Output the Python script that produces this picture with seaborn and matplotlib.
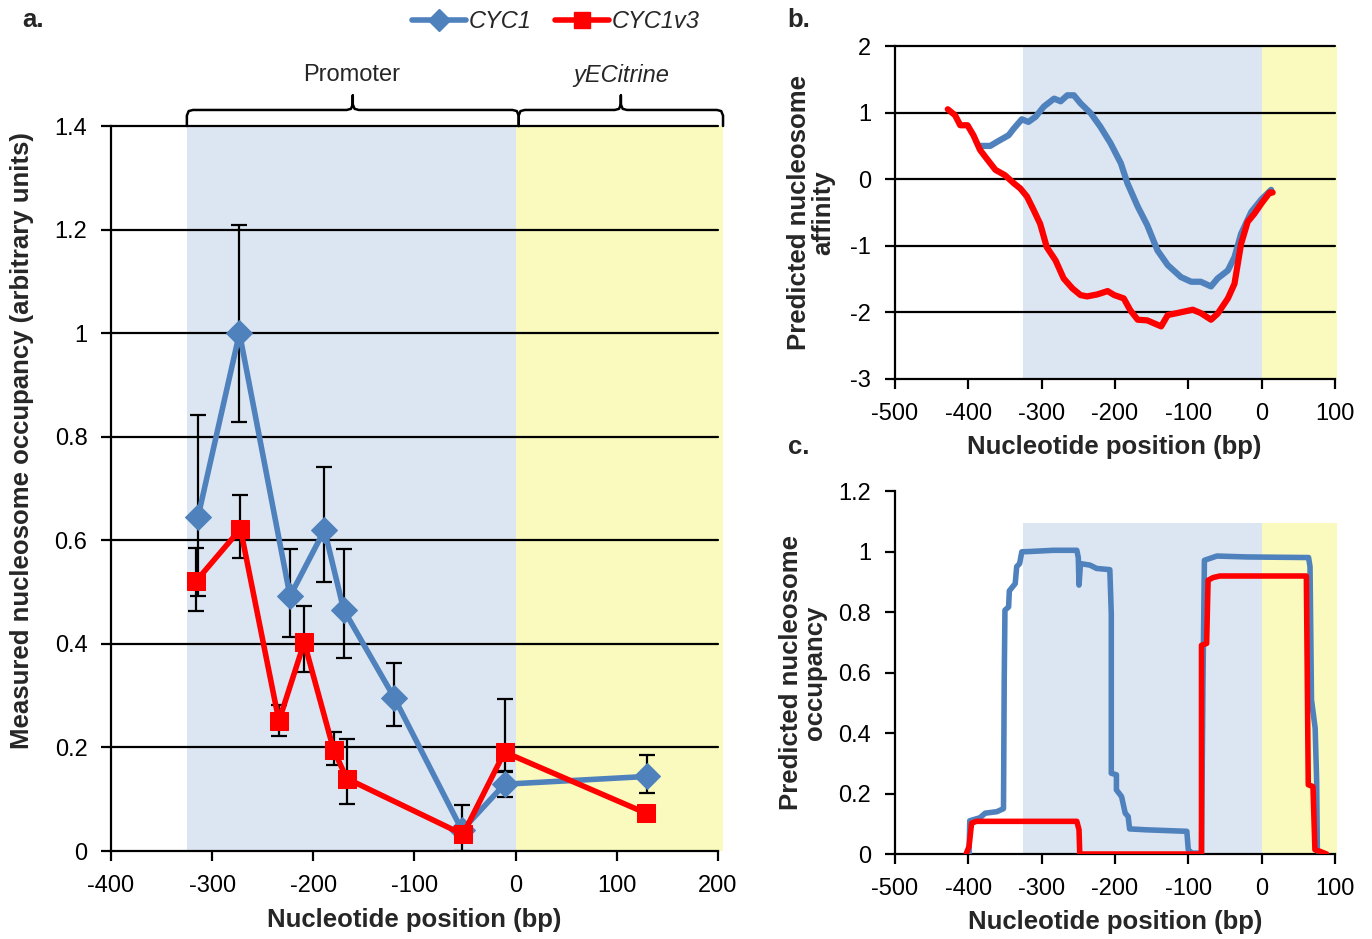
import matplotlib
matplotlib.use('Agg')
import matplotlib.pyplot as plt
import seaborn as sns
from matplotlib.lines import Line2D

sns.set_theme(style='white')
plt.rcParams['font.family'] = ['Liberation Sans', 'DejaVu Sans']

BLUE = '#4F81BD'
RED = '#FF0000'
PROMOTER_BG = '#DCE6F2'
CODING_BG = '#FAFABE'

# Panel a: measured occupancy (CYC1 and CYC1v3)
cyc1_pos = [-314, -273, -223, -189, -170, -120, -53, -11, 130]
cyc1_occ = [0.645, 1.0, 0.492, 0.620, 0.466, 0.296, 0.040, 0.129, 0.144]
cyc1_err_lo = [0.152, 0.172, 0.078, 0.100, 0.094, 0.054, 0.040, 0.024, 0.032]
cyc1_err_hi = [0.197, 0.208, 0.092, 0.121, 0.117, 0.068, 0.048, 0.024, 0.042]

v3_pos = [-316, -272, -234, -209, -180, -167, -52, -11, 129]
v3_occ = [0.521, 0.622, 0.251, 0.403, 0.196, 0.140, 0.032, 0.191, 0.073]
v3_err_lo = [0.058, 0.057, 0.029, 0.057, 0.029, 0.050, 0.015, 0.037, 0.0]
v3_err_hi = [0.065, 0.066, 0.031, 0.070, 0.033, 0.076, 0.015, 0.103, 0.0]

a_xticks = [-400, -300, -200, -100, 0, 100, 200]
a_yticks = [0, 0.2, 0.4, 0.6, 0.8, 1.0, 1.2, 1.4]
a_yticklabels = ['0', '0.2', '0.4', '0.6', '0.8', '1', '1.2', '1.4']

# Panel b: predicted nucleosome affinity
b_cyc1_x = [-384, -370, -361, -345, -338, -327, -318, -308, -297, -283, -274, -265,
            -256, -247, -233, -220, -206, -192, -183, -169, -156, -142, -128, -110,
            -96, -83, -69, -60, -46, -37, -28, -14, 0, 13]
b_cyc1_y = [0.50, 0.50, 0.56, 0.66, 0.76, 0.90, 0.86, 0.94, 1.09, 1.21, 1.17, 1.26,
            1.26, 1.14, 0.99, 0.79, 0.54, 0.24, -0.06, -0.41, -0.69, -1.07, -1.29, -1.47,
            -1.54, -1.54, -1.61, -1.49, -1.37, -1.17, -0.82, -0.49, -0.30, -0.16]
b_v3_x = [-428, -418, -411, -401, -393, -384, -375, -363, -350, -338, -329, -320,
          -311, -302, -293, -281, -270, -258, -247, -238, -224, -210, -201, -188,
          -179, -169, -156, -137, -128, -115, -94, -83, -69, -60, -46, -37, -28,
          -19, -10, 0, 11, 15]
b_v3_y = [1.05, 0.96, 0.81, 0.81, 0.66, 0.44, 0.31, 0.14, 0.06, -0.06, -0.14, -0.26,
          -0.46, -0.67, -1.02, -1.22, -1.49, -1.64, -1.74, -1.76, -1.73, -1.68, -1.74, -1.79,
          -1.97, -2.11, -2.12, -2.21, -2.04, -2.01, -1.96, -2.01, -2.11, -2.02, -1.79, -1.57, -0.97,
          -0.64, -0.52, -0.36, -0.20, -0.20]
b_yticks = [-3, -2, -1, 0, 1, 2]

# Panel c: predicted nucleosome occupancy
c_cyc1_x = [-399, -398, -384, -377, -361, -352, -351, -350, -345, -344,
            -336, -334, -330, -327, -316, -284, -252, -250, -249, -247,
            -234, -225, -207, -205, -205, -198, -198, -191, -186, -182,
            -180, -157, -102, -100, -95, -82, -80, -78, -61, -20,
            64, 66, 68, 73, 75, 76]
c_cyc1_y = [0.0, 0.11, 0.12, 0.135, 0.14, 0.15, 0.575, 0.806, 0.817, 0.87,
            0.894, 0.95, 0.96, 0.999, 1.0, 1.004, 1.004, 0.98, 0.889, 0.96,
            0.955, 0.944, 0.94, 0.795, 0.267, 0.262, 0.212, 0.19, 0.135, 0.124,
            0.083, 0.08, 0.075, 0.014, 0.003, 0.003, 0.564, 0.971, 0.985, 0.982,
            0.98, 0.95, 0.51, 0.416, 0.245, 0.01]
c_v3_x = [-403, -399, -395.5, -389, -252, -249, -248, -82, -82, -75, -73, -66, -57,
          61, 63.6, 70, 72.7, 79.5, 88.6]
c_v3_y = [0.0, 0.025, 0.102, 0.108, 0.108, 0.08, 0.0, 0.0, 0.69, 0.696, 0.905, 0.914, 0.919,
          0.919, 0.229, 0.223, 0.014, 0.009, 0.0]
c_yticks = [0, 0.2, 0.4, 0.6, 0.8, 1.0, 1.2]
c_yticklabels = ['0', '0.2', '0.4', '0.6', '0.8', '1', '1.2']

bc_xticks = [-500, -400, -300, -200, -100, 0, 100]

promoter_span = (-325, 0)
coding_span_a = (0, 205)
coding_span_bc = (0, 103)

TICK_FS = 17
LABEL_FS = 18.5

fig = plt.figure(figsize=(13.72, 9.39), dpi=100)
ax_a = fig.add_axes([0.0809, 0.0937, 0.4424, 0.7721])
ax_b = fig.add_axes([0.6523, 0.5964, 0.3207, 0.3546])
ax_c = fig.add_axes([0.6523, 0.0905, 0.3207, 0.3866])


def style_axes(ax):
    for side in ['top', 'right']:
        ax.spines[side].set_visible(False)
    for side in ['left', 'bottom']:
        ax.spines[side].set_color('black')
        ax.spines[side].set_linewidth(1.6)
    ax.set_facecolor('none')
    ax.tick_params(direction='out', length=7, width=1.6, colors='black',
                   labelsize=TICK_FS, left=True, bottom=True)
    ax.tick_params(axis='x', pad=10)
    ax.tick_params(axis='y', pad=10)


def hyphen_labels(vals):
    return [str(int(v)) if float(v).is_integer() else str(v) for v in vals]


# ---- panel a ----
ax = ax_a
style_axes(ax)
ax.axvspan(*promoter_span, color=PROMOTER_BG, zorder=0, lw=0)
ax.axvspan(*coding_span_a, color=CODING_BG, zorder=0, lw=0, clip_on=False)
for yv in a_yticks[1:]:
    ax.axhline(yv, color='black', lw=1.6, zorder=1, clip_on=False)
ax.errorbar(cyc1_pos, cyc1_occ, yerr=[cyc1_err_lo, cyc1_err_hi], fmt='none',
            ecolor='black', elinewidth=1.6, capsize=6, capthick=1.6, zorder=3)
ax.errorbar(v3_pos, v3_occ, yerr=[v3_err_lo, v3_err_hi], fmt='none',
            ecolor='black', elinewidth=1.6, capsize=6, capthick=1.6, zorder=3)
sns.lineplot(x=cyc1_pos, y=cyc1_occ, ax=ax, sort=False, estimator=None, color=BLUE,
             lw=4, marker='D', markersize=13, markeredgecolor=BLUE, zorder=4)
sns.lineplot(x=v3_pos, y=v3_occ, ax=ax, sort=False, estimator=None, color=RED,
             lw=4, marker='s', markersize=13, markeredgecolor=RED, zorder=5)
ax.set_xlim(-400, 200)
ax.set_ylim(0, 1.4)
ax.set_xticks(a_xticks)
ax.set_xticklabels(hyphen_labels(a_xticks))
ax.set_yticks(a_yticks)
ax.set_yticklabels(a_yticklabels)
ax.set_xlabel('')
ax.set_ylabel('')


def draw_brace(ax, x0, x1, y0, y1, yp, r):
    xm = (x0 + x1) / 2
    c = (y1 - y0) * 0.35
    xs = [x0, x0, x0 + r * 0.3, x0 + r, xm - r, xm - r * 0.3, xm, xm, xm,
          xm + r * 0.3, xm + r, x1 - r, x1 - r * 0.3, x1, x1]
    ys = [y0, y1 - c, y1 - c * 0.2, y1, y1, y1 + c * 0.2, y1 + c, yp, y1 + c,
          y1 + c * 0.2, y1, y1, y1 - c * 0.2, y1 - c, y0]
    ax.plot(xs, ys, color='black', lw=1.8, clip_on=False, zorder=6,
            solid_joinstyle='round')


draw_brace(ax, promoter_span[0], 3, 1.4, 1.431, 1.459, 6)
draw_brace(ax, 3, coding_span_a[1], 1.4, 1.431, 1.459, 6)
ax.text(-162, 1.498, 'Promoter', ha='center', va='center', fontsize=TICK_FS)
ax.text(104, 1.498, 'yECitrine', ha='center', va='center', fontsize=TICK_FS,
        style='italic')

# ---- panel b ----
ax = ax_b
style_axes(ax)
ax.axvspan(*promoter_span, color=PROMOTER_BG, zorder=0, lw=0)
ax.axvspan(*coding_span_bc, color=CODING_BG, zorder=0, lw=0, clip_on=False)
for yv in b_yticks[1:]:
    ax.axhline(yv, color='black', lw=1.6, zorder=1, clip_on=False)
sns.lineplot(x=b_cyc1_x, y=b_cyc1_y, ax=ax, sort=False, estimator=None, color=BLUE,
             lw=4.5, zorder=4, solid_capstyle='round')
sns.lineplot(x=b_v3_x, y=b_v3_y, ax=ax, sort=False, estimator=None, color=RED,
             lw=4.5, zorder=5, solid_capstyle='round')
ax.set_xlim(-500, 100)
ax.set_ylim(-3, 2)
ax.set_xticks(bc_xticks)
ax.set_xticklabels(hyphen_labels(bc_xticks))
ax.set_yticks(b_yticks)
ax.set_yticklabels(hyphen_labels(b_yticks))
ax.set_xlabel('')
ax.set_ylabel('')

# ---- panel c ----
ax = ax_c
style_axes(ax)
ax.axvspan(*promoter_span, ymin=0, ymax=1.095 / 1.2, color=PROMOTER_BG, zorder=0, lw=0)
ax.axvspan(*coding_span_bc, ymin=0, ymax=1.095 / 1.2, color=CODING_BG, zorder=0, lw=0,
           clip_on=False)
sns.lineplot(x=c_cyc1_x, y=c_cyc1_y, ax=ax, sort=False, estimator=None, color=BLUE,
             lw=4, zorder=4, solid_capstyle='round')
sns.lineplot(x=c_v3_x, y=c_v3_y, ax=ax, sort=False, estimator=None, color=RED,
             lw=4, zorder=5, solid_capstyle='round')
ax.set_xlim(-500, 100)
ax.set_ylim(0, 1.2)
ax.set_xticks(bc_xticks)
ax.set_xticklabels(hyphen_labels(bc_xticks))
ax.set_yticks(c_yticks)
ax.set_yticklabels(c_yticklabels)
ax.set_xlabel('')
ax.set_ylabel('')

# ---- labels ----
fig.text(0.016, 0.531, 'Measured nucleosome occupancy (arbitrary units)', rotation=90,
         ha='center', va='center', fontsize=LABEL_FS, fontweight='bold')
fig.text(0.302, 0.020, 'Nucleotide position (bp)', ha='center', va='center',
         fontsize=LABEL_FS, fontweight='bold')
fig.text(0.591, 0.774, 'Predicted nucleosome\naffinity', rotation=90, ha='center',
         va='center', fontsize=LABEL_FS, fontweight='bold', linespacing=1.0)
fig.text(0.812, 0.524, 'Nucleotide position (bp)', ha='center', va='center',
         fontsize=LABEL_FS, fontweight='bold')
fig.text(0.585, 0.284, 'Predicted nucleosome\noccupancy', rotation=90, ha='center',
         va='center', fontsize=LABEL_FS, fontweight='bold', linespacing=1.0)
fig.text(0.8127, 0.018, 'Nucleotide position (bp)', ha='center', va='center',
         fontsize=LABEL_FS, fontweight='bold')

fig.text(0.016, 0.979, 'a.', ha='left', va='center', fontsize=LABEL_FS, fontweight='bold')
fig.text(0.574, 0.979, 'b.', ha='left', va='center', fontsize=LABEL_FS, fontweight='bold')
fig.text(0.574, 0.524, 'c.', ha='left', va='center', fontsize=LABEL_FS, fontweight='bold')

handles = [Line2D([], [], color=BLUE, lw=4, marker='D', markersize=11),
           Line2D([], [], color=RED, lw=4, marker='s', markersize=11)]
fig.legend(handles, ['CYC1', 'CYC1v3'], loc='center', bbox_to_anchor=(0.405, 0.977),
           ncol=2, frameon=False, prop={'style': 'italic', 'size': TICK_FS},
           handlelength=2.3, handletextpad=0.1, columnspacing=1.0)

fig.savefig('out.png', dpi=100)
